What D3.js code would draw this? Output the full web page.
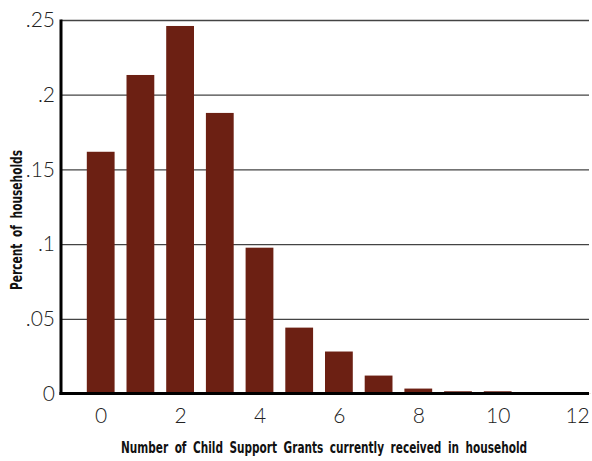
<!DOCTYPE html>
<html>
<head>
<meta charset="utf-8">
<script src="https://cdn.jsdelivr.net/npm/d3@7"></script>
<style>
  body { margin: 0; background: #fff; }
  .tick text { font-family: Lato, "Open Sans", sans-serif; font-weight: 300; font-size: 21px; fill: #222; }
  .title { font-family: "DejaVu Sans Condensed", "DejaVu Sans", sans-serif; font-stretch: condensed; font-weight: bold; font-size: 16px; fill: #111; }
</style>
</head>
<body>
<div id="chart"></div>
<script>
// Data
var grants = [0, 1, 2, 3, 4, 5, 6, 7, 8, 9, 10, 11, 12];
var shares = [0.1618, 0.2132, 0.2460, 0.1878, 0.0976, 0.0441, 0.0281, 0.0120, 0.0033, 0.0015, 0.0015, 0.0002, 0.0001];
var yTicks = [0, 0.05, 0.1, 0.15, 0.2, 0.25];
var yTickLabels = ['0', '.05', '.1', '.15', '.2', '.25'];
var xTicks = [0, 2, 4, 6, 8, 10, 12];
var xTitle = 'Number of Child Support Grants currently received in household';
var yTitle = 'Percent of households';

var width = 592;
var height = 461;
var plotLeft = 61, plotRight = 589, plotTop = 20, plotBottom = 393.5;

var svg = d3.select('#chart').append('svg')
    .attr('width', width)
    .attr('height', height);

var x = d3.scaleLinear().domain([-1, 12.3]).range([plotLeft, plotRight]);
var y = d3.scaleLinear().domain([0, 0.25]).range([plotBottom, plotTop]);
var barW = (x(1) - x(0)) * 0.7;

// gridlines + y labels
var yAxis = svg.append('g')
    .attr('transform', 'translate(' + plotLeft + ',0)')
    .call(d3.axisLeft(y)
      .tickValues(yTicks)
      .tickFormat(function(d, i) { return yTickLabels[i]; })
      .tickSize(-(plotRight - plotLeft))
      .tickPadding(6));
yAxis.select('.domain').remove();
yAxis.selectAll('.tick line')
    .attr('stroke', '#444')
    .attr('stroke-width', 1.3);

// bars
svg.append('g').selectAll('rect')
    .data(grants)
    .enter().append('rect')
    .attr('x', function(d) { return x(d) - barW / 2; })
    .attr('y', function(d, i) { return y(shares[i]); })
    .attr('width', barW)
    .attr('height', function(d, i) { return y(0) - y(shares[i]); })
    .attr('fill', '#6c2013');

// x labels
var xAxis = svg.append('g')
    .attr('transform', 'translate(0,' + plotBottom + ')')
    .call(d3.axisBottom(x)
      .tickValues(xTicks)
      .tickFormat(d3.format('d'))
      .tickSize(0)
      .tickPadding(14.6));
xAxis.select('.domain').remove();

// axis lines
svg.append('line')
    .attr('x1', plotLeft).attr('x2', plotLeft)
    .attr('y1', plotTop - 0.5).attr('y2', plotBottom + 1.5)
    .attr('stroke', '#000').attr('stroke-width', 3);
svg.append('line')
    .attr('x1', plotLeft - 1.5).attr('x2', plotRight)
    .attr('y1', plotBottom).attr('y2', plotBottom)
    .attr('stroke', '#000').attr('stroke-width', 3);

// titles: wide word gaps like the original, squeezed glyphs if the font runs wide
function fitWords(sel, target) {
  var words = sel.text().split(' ').length - 1;
  sel.style('word-spacing', '4px');
  var w = sel.node().getComputedTextLength();
  if (w > target) {
    sel.attr('textLength', target).attr('lengthAdjust', 'spacingAndGlyphs');
  } else {
    sel.style('word-spacing', (4 + (target - w) / words) + 'px');
  }
}

var xt = svg.append('text')
    .attr('class', 'title')
    .attr('x', 324).attr('y', 453)
    .attr('text-anchor', 'middle')
    .text(xTitle);
fitWords(xt, 406);

var yt = svg.append('text')
    .attr('class', 'title')
    .attr('transform', 'translate(22,220)rotate(-90)')
    .attr('text-anchor', 'middle')
    .text(yTitle);
fitWords(yt, 140);
</script>
</body>
</html>
